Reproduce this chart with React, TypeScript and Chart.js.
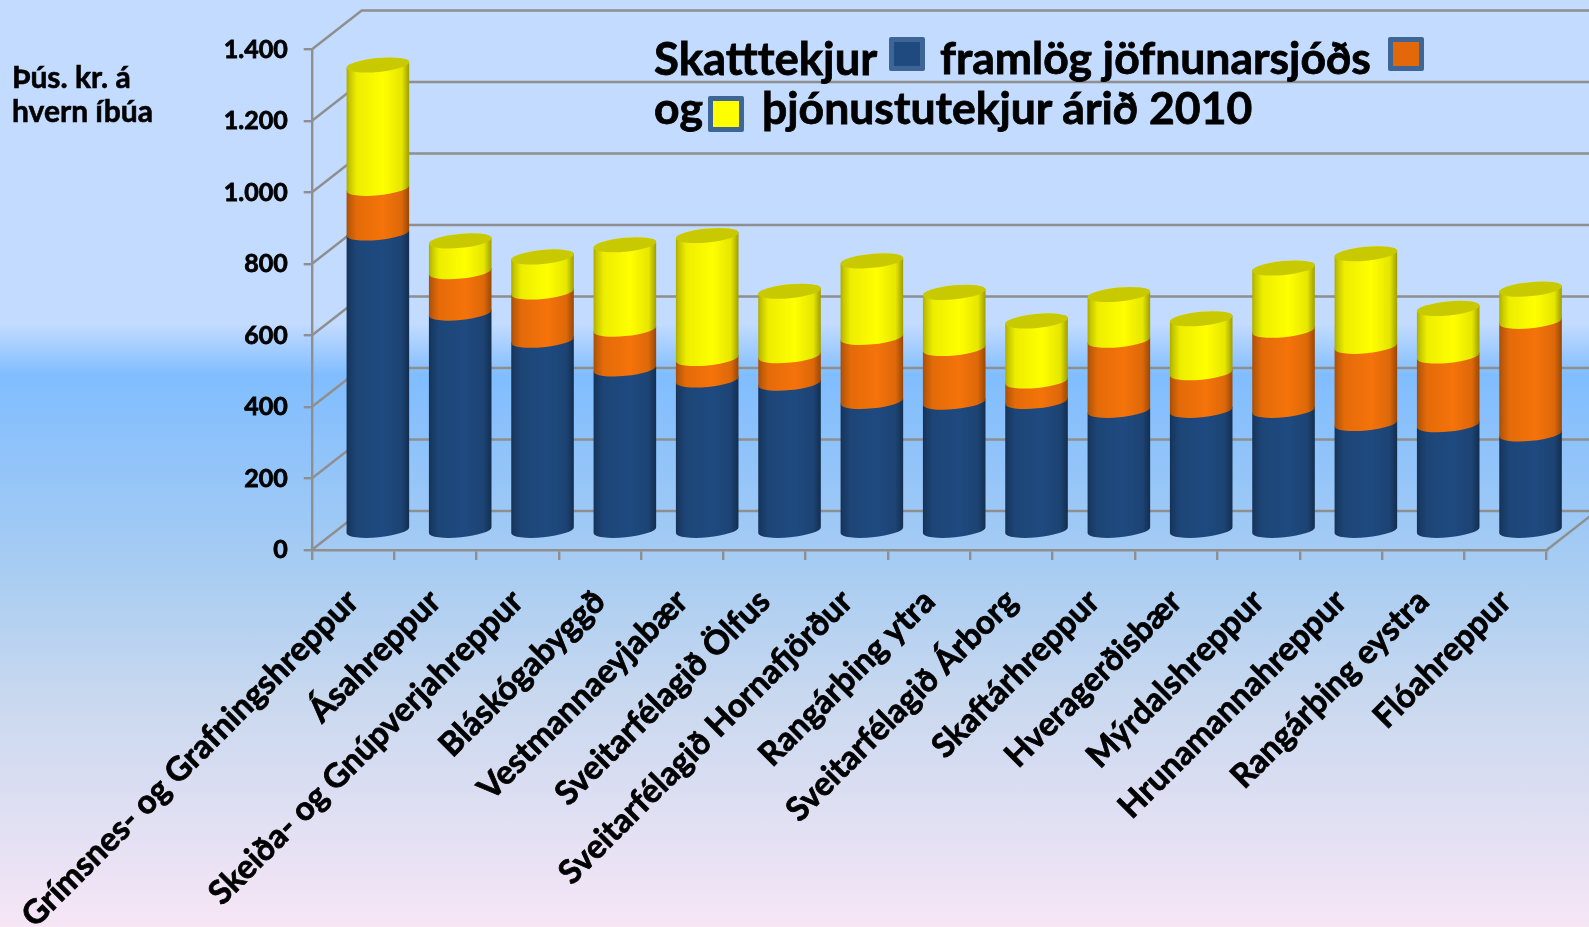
import React, { useEffect, useRef } from "react";
import { Chart, registerables } from "chart.js";

Chart.register(...registerables);

const categories = [
  "Grímsnes- og Grafningshreppur",
  "Ásahreppur",
  "Skeiða- og Gnúpverjahreppur",
  "Bláskógabyggð",
  "Vestmannaeyjabær",
  "Sveitarfélagið Ölfus",
  "Sveitarfélagið Hornafjörður",
  "Rangárþing ytra",
  "Sveitarfélagið Árborg",
  "Skaftárhreppur",
  "Hveragerðisbær",
  "Mýrdalshreppur",
  "Hrunamannahreppur",
  "Rangárþing eystra",
  "Flóahreppur",
];
const skatttekjur = [835, 611, 535, 455, 424, 415, 364, 362, 364, 339, 339, 339, 302, 299, 273];
const jofnunarsjodur = [125, 116, 135, 111, 60, 77, 179, 150, 57, 196, 105, 224, 216, 192, 315];
const thjonustutekjur = [345, 86, 98, 236, 344, 180, 214, 157, 168, 128, 151, 174, 259, 133, 90];

const DEPTH_X = 50;
const DEPTH_Y = 39;
const BAR_SHIFT_Y = 18.5;
const TILT = 3;
const CAP_RY = 7;
const AXIS = "#8f8f8f";
const FONT = "Lato, 'Open Sans', sans-serif";

const shade = (hex: string, f: number) => {
  const n = parseInt(hex.slice(1), 16);
  const c = [(n >> 16) & 255, (n >> 8) & 255, n & 255].map((v) => Math.round(v * f));
  return `rgb(${c[0]},${c[1]},${c[2]})`;
};

const cylinderPlugin = {
  id: "cylinder",
  beforeDatasetsDraw(chart: any) {
    const { ctx, chartArea, scales } = chart;
    const { left, right, bottom } = chartArea;
    ctx.save();
    ctx.strokeStyle = AXIS;
    ctx.lineWidth = 2.4;
    scales.y.ticks.forEach((t: any) => {
      const y = scales.y.getPixelForValue(t.value);
      ctx.beginPath();
      ctx.moveTo(left, y);
      ctx.lineTo(left + DEPTH_X, y - DEPTH_Y);
      ctx.lineTo(right + DEPTH_X, y - DEPTH_Y);
      ctx.stroke();
    });
    ctx.beginPath();
    ctx.moveTo(right, bottom);
    ctx.lineTo(right + DEPTH_X, bottom - DEPTH_Y);
    ctx.stroke();
    ctx.restore();
  },
  beforeDatasetDraw() {
    return false;
  },
  afterDatasetsDraw(chart: any) {
    const { ctx } = chart;
    ctx.save();
    ctx.translate(DEPTH_X / 2, -BAR_SHIFT_Y);
    const n = chart.data.labels.length;
    for (let i = 0; i < n; i++) {
      chart.data.datasets.forEach((ds: any, d: number) => {
        const el = chart.getDatasetMeta(d).data[i];
        const { x, y, base, width } = el;
        const hw = width / 2;
        const rx = Math.hypot(hw, TILT);
        const rot = Math.atan2(-TILT, hw);
        const g = ctx.createLinearGradient(x - hw, 0, x + hw, 0);
        const c = ds.backgroundColor;
        g.addColorStop(0, shade(c, 0.68));
        g.addColorStop(0.05, shade(c, 0.78));
        g.addColorStop(0.16, shade(c, 0.93));
        g.addColorStop(0.58, shade(c, 1));
        g.addColorStop(0.88, shade(c, 0.9));
        g.addColorStop(1, shade(c, 0.62));
        ctx.fillStyle = g;
        ctx.beginPath();
        ctx.moveTo(x - hw, y + TILT);
        ctx.lineTo(x - hw, base + TILT);
        ctx.ellipse(x, base, rx, CAP_RY, rot, Math.PI, 0, true);
        ctx.lineTo(x + hw, y - TILT);
        ctx.ellipse(x, y, rx, CAP_RY, rot, 0, Math.PI, true);
        ctx.closePath();
        ctx.fill();
        if (d === chart.data.datasets.length - 1) {
          ctx.fillStyle = shade(c, 0.79);
          ctx.beginPath();
          ctx.ellipse(x, y, rx, CAP_RY, rot, 0, Math.PI * 2);
          ctx.fill();
        }
      });
    }
    ctx.restore();
  },
};

const textStyle: React.CSSProperties = {
  position: "absolute",
  fontFamily: FONT,
  fontWeight: 700,
  color: "#000",
  whiteSpace: "nowrap",
  lineHeight: 1,
};

const Label = ({ x, y, size, stroke, children }: any) => (
  <div style={{ ...textStyle, left: x, top: y, fontSize: size, WebkitTextStroke: `${stroke}px #000` }}>{children}</div>
);

const Swatch = ({ x, y, w, h, color }: any) => (
  <div
    style={{
      position: "absolute",
      left: x,
      top: y,
      width: w,
      height: h,
      boxSizing: "border-box",
      background: color,
      border: "5px solid #3d6596",
      borderRadius: 2,
    }}
  />
);

export default function App() {
  const ref = useRef<HTMLCanvasElement>(null);
  useEffect(() => {
    document.body.style.margin = "0";
    document.body.style.overflow = "hidden";
    const chart = new Chart(ref.current as HTMLCanvasElement, {
      type: "bar",
      data: {
        labels: categories,
        datasets: [
          { label: "Skatttekjur", data: skatttekjur, backgroundColor: "#1f4a80" },
          { label: "Framlög jöfnunarsjóðs", data: jofnunarsjodur, backgroundColor: "#f5730a" },
          { label: "Þjónustutekjur", data: thjonustutekjur, backgroundColor: "#ffff00" },
        ],
      },
      plugins: [cylinderPlugin],
      options: {
        responsive: false,
        animation: false,
        layout: { padding: { left: 0, right: 42.3, top: 49.5, bottom: 0 } },
        plugins: { legend: { display: false }, title: { display: false }, tooltip: { enabled: false } },
        datasets: { bar: { categoryPercentage: 0.76, barPercentage: 1 } },
        scales: {
          x: {
            stacked: true,
            afterFit(s: any) {
              s.height = 377;
              s.paddingLeft = 0;
              s.paddingRight = 0;
            },
            grid: { offset: true, drawOnChartArea: false, tickLength: 10, color: AXIS, lineWidth: 2.4 },
            border: { color: AXIS, width: 2.4 },
            ticks: {
              autoSkip: false,
              maxRotation: 45,
              minRotation: 45,
              padding: 22,
              color: "#000",
              textStrokeColor: "#000",
              textStrokeWidth: 0.8,
              font: { family: FONT, size: 33, weight: "700" },
            },
          },
          y: {
            stacked: true,
            min: 0,
            max: 1400,
            afterFit(s: any) {
              s.width = 311.7;
              s.paddingTop = 0;
              s.paddingBottom = 0;
            },
            grid: { drawOnChartArea: false, tickLength: 8, color: AXIS, lineWidth: 2.4 },
            border: { color: AXIS, width: 2.4 },
            ticks: {
              stepSize: 200,
              padding: 16,
              color: "#000",
              textStrokeColor: "#000",
              textStrokeWidth: 0.8,
              font: { family: FONT, size: 25, weight: "700" },
              callback: (v: any) => Number(v).toLocaleString("de-DE"),
            },
          },
        },
      },
    } as any);
    return () => chart.destroy();
  }, []);

  return (
    <div
      style={{
        position: "relative",
        width: 1589,
        height: 927,
        overflow: "hidden",
        background:
          "linear-gradient(180deg,#c2dbff 0%,#c2dbff 35%,#80bdff 40.5%,#a9cdf2 62%,#c8d8ef 75%,#f6e6f6 100%)",
      }}
    >
      <canvas ref={ref} width={1589} height={927} style={{ position: "absolute", left: 0, top: 0 }} />
      <Label x={12} y={61} size={30} stroke={0.6}>Þús. kr. á</Label>
      <Label x={12} y={95} size={30} stroke={0.6}>hvern íbúa</Label>
      <Label x={654} y={35} size={45.5} stroke={0.8}>Skatttekjur</Label>
      <Swatch x={889} y={37} w={36} h={34} color="#1f4a80" />
      <Label x={940} y={35} size={44.5} stroke={0.8}>framlög jöfnunarsjóðs</Label>
      <Swatch x={1388} y={37} w={36} h={34} color="#e36809" />
      <Label x={654} y={85} size={44.5} stroke={0.8}>og</Label>
      <Swatch x={708} y={96} w={36} h={36} color="#ffff00" />
      <Label x={762} y={85} size={44.5} stroke={0.8}>þjónustutekjur árið 2010</Label>
    </div>
  );
}
